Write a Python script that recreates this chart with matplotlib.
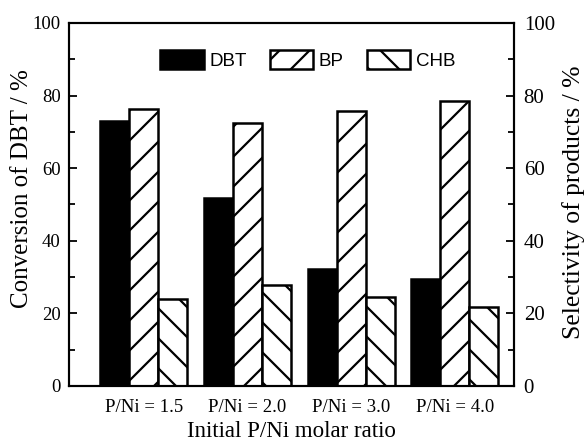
import numpy as np
import matplotlib.pyplot as plt
from matplotlib.ticker import MultipleLocator

# P/Ni ratios and measured values (%)
ratios = ["P/Ni = 1.5", "P/Ni = 2.0", "P/Ni = 3.0", "P/Ni = 4.0"]
dbt_conv = [73.0, 51.8, 32.2, 29.5]
bp_sel = [76.2, 72.4, 75.8, 78.6]
chb_sel = [24.0, 27.8, 24.5, 21.8]

# hatch spacing follows the dpi; point sizes are scaled so pixel sizes stay fixed
DPI = 90
s = 100 / DPI

plt.rcParams["hatch.linewidth"] = 1.6 * s
serif = ["Liberation Serif", "DejaVu Serif"]

fig = plt.figure(figsize=(586 / DPI, 446 / DPI), dpi=DPI)
ax = fig.add_axes([69 / 586, 1 - 386 / 446, 445 / 586, 363 / 446])

x = np.arange(len(ratios))
w = 0.28
lw = 1.8 * s
ax.bar(x - w, dbt_conv, w, color="black", edgecolor="black", linewidth=lw, label="DBT")
ax.bar(x, bp_sel, w, color="white", edgecolor="black", linewidth=lw, hatch="/", label="BP")
ax.bar(x + w, chb_sel, w, color="white", edgecolor="black", linewidth=lw, hatch="\\", label="CHB")

ax.set_xlim(-0.72, 3.57)
ax.set_ylim(0, 100)
ax.set_xticks(x)
ax.set_xticklabels(ratios, family=serif, fontsize=13.5 * s)
ax.tick_params(axis="x", length=0, pad=9 * s)
ax.yaxis.set_major_locator(MultipleLocator(20))
ax.yaxis.set_minor_locator(MultipleLocator(10))
ax.tick_params(axis="y", which="major", direction="in", length=5.5 * s, width=1.3 * s,
               labelsize=13.5 * s, pad=6 * s)
ax.tick_params(axis="y", which="minor", direction="in", length=4 * s, width=1.3 * s)
for lab in ax.get_yticklabels():
    lab.set_family(serif)
for sp in ax.spines.values():
    sp.set_linewidth(1.5 * s)

ax.set_xlabel("Initial P/Ni molar ratio", family=serif, fontsize=16.5 * s, labelpad=4 * s)
ax.set_ylabel("Conversion of DBT / %", family=serif, fontsize=18 * s)
ax.yaxis.set_label_coords(-0.081, 0.545)

# right axis for the product selectivity
ax2 = ax.twinx()
ax2.set_ylim(0, 100)
ax2.yaxis.set_major_locator(MultipleLocator(20))
ax2.yaxis.set_minor_locator(MultipleLocator(10))
ax2.tick_params(axis="y", which="major", direction="in", length=5.5 * s, width=1.3 * s,
                labelsize=15 * s, pad=7 * s)
ax2.tick_params(axis="y", which="minor", direction="in", length=4 * s, width=1.3 * s)
for lab in ax2.get_yticklabels():
    lab.set_family(serif)
ax2.set_ylabel("Selectivity of products / %", family=serif, fontsize=18.5 * s)
ax2.yaxis.set_label_coords(1.108, 0.507)
for sp in ax2.spines.values():
    sp.set_linewidth(1.5 * s)

ax.legend(loc="center", bbox_to_anchor=(0.537, 1 - 37 / 363), ncol=3, frameon=False,
          prop={"family": "Liberation Sans", "size": 13.5 * s},
          handlelength=2.3, handleheight=1.2, columnspacing=1.25, handletextpad=0.3)

fig.savefig("out.png", dpi=DPI)
